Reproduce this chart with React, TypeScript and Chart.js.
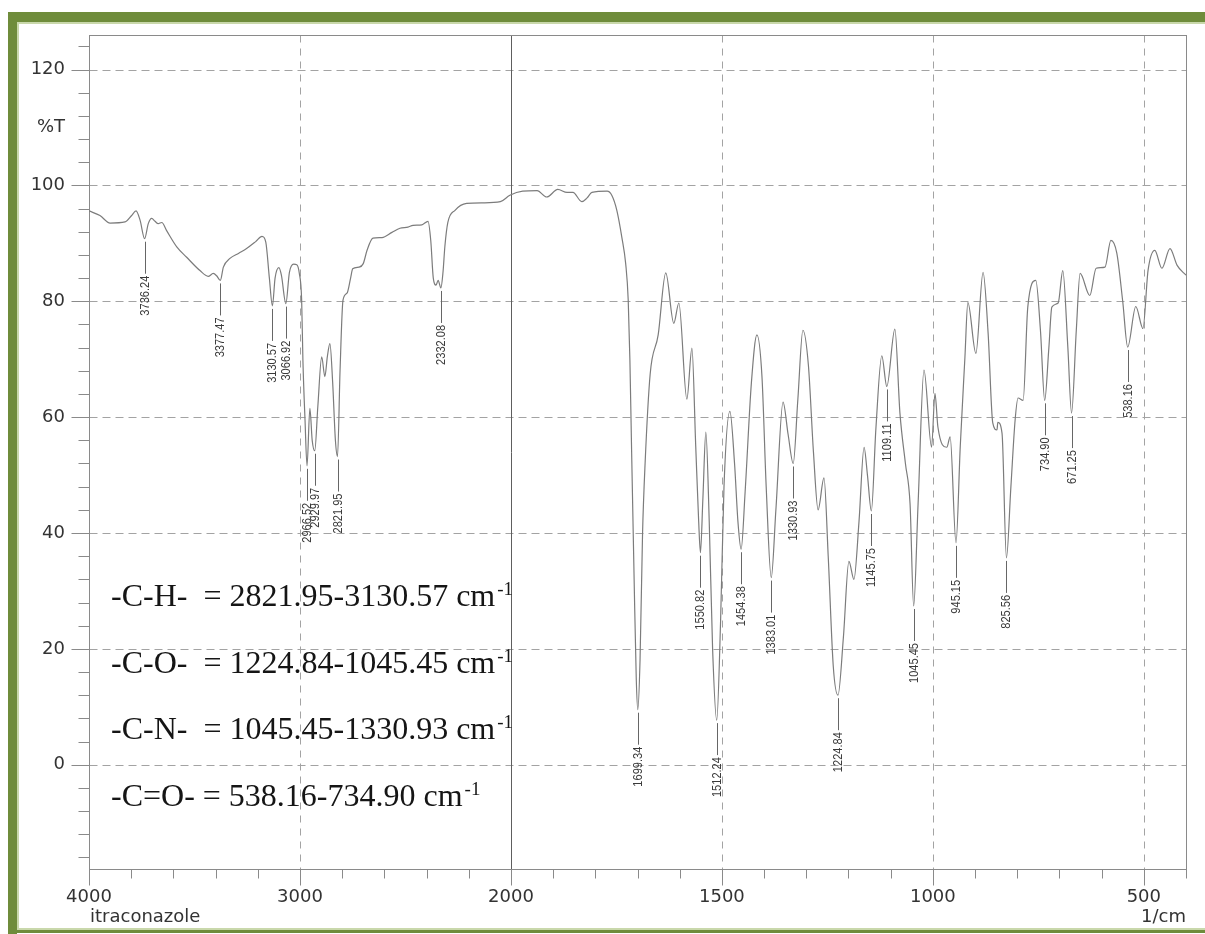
import { useEffect, useRef } from 'react';
import { Chart, LinearScale, registerables } from 'chart.js';

// FTIR spectrum of itraconazole: wavenumber (1/cm) against transmittance (%T)
const WAVENUMBERS: number[] = [
  4000, 3948, 3900, 3829, 3798, 3777, 3758, 3736.24, 3719, 3703, 3687, 3672, 3655, 3632,
  3584, 3537, 3474, 3435, 3411, 3395, 3377.47, 3363, 3332, 3290, 3253, 3210, 3180, 3162,
  3145, 3130.57, 3118, 3100, 3088, 3066.92, 3050, 3030, 3015, 3003, 2992, 2986, 2976,
  2966.52, 2953, 2942, 2929.97, 2915, 2897, 2882, 2870, 2858, 2845, 2832, 2821.95, 2810,
  2796, 2777, 2760, 2750, 2720, 2700, 2682, 2654, 2611, 2564, 2526, 2488, 2464, 2422,
  2393, 2380, 2368, 2355, 2345, 2332.08, 2322, 2313, 2299, 2265, 2210, 2130, 2050, 2005,
  1972, 1938, 1915, 1889, 1867, 1853, 1832, 1820, 1808, 1772, 1761, 1749, 1737, 1728,
  1722, 1718, 1714, 1708, 1703, 1699.34, 1694, 1688, 1682, 1670, 1651, 1633, 1614, 1602,
  1583, 1571, 1562, 1555, 1550.82, 1545, 1538, 1530, 1522, 1512.24, 1503, 1495, 1481,
  1470, 1462, 1454.38, 1445, 1430, 1417, 1405, 1395, 1383.01, 1372, 1355, 1343, 1330.93,
  1320, 1308, 1295, 1283, 1272, 1258, 1248, 1236, 1224.84, 1212, 1199, 1187, 1175, 1163,
  1155, 1145.75, 1135, 1121, 1109.11, 1090, 1078, 1065, 1054, 1045.45, 1035, 1021, 1003,
  995, 988, 967, 959, 945.15, 935, 924, 917, 898, 881, 869, 858, 848, 846, 836, 825.56,
  815, 805, 798, 786, 775, 756, 745, 734.9, 725, 718, 703, 692, 680, 671.25, 660, 651,
  628, 613, 592, 578, 564, 550, 538.16, 519, 502, 490, 474, 457, 438, 421, 400,
];

const TRANSMITTANCE: number[] = [
  95.6, 94.8, 93.5, 93.7, 94.8, 95.6, 94.0, 90.8, 93.4, 94.3, 93.8, 93.4, 93.6, 92.2,
  89.4, 87.6, 85.3, 84.3, 84.8, 84.4, 83.6, 85.9, 87.4, 88.3, 89.1, 90.3, 91.2, 90.2,
  84.0, 79.2, 84.0, 85.8, 84.5, 79.6, 85.0, 86.4, 86.3, 84.8, 80.2, 69.8, 59.5,
  51.6, 61.5, 56.0, 54.2, 62.0, 70.4, 67.0, 70.5, 72.7, 66.0, 56.0, 53.2, 68.0,
  80.2, 81.4, 84.0, 85.6, 85.9, 86.5, 88.8, 90.9, 91.0, 91.9, 92.6, 92.8, 93.1, 93.2,
  93.8, 90.5, 84.0, 82.8, 83.6, 82.3, 85.0, 89.5, 93.6, 95.7, 96.9, 97.0, 97.2, 98.3,
  99.0, 99.1, 98.0, 99.3, 98.8, 98.8, 97.2, 97.8, 98.8, 99.0, 98.3, 95.7, 91.0, 86.5,
  80.2, 69.8, 54.3, 32.0, 15.0, 9.5, 18.0, 40.0, 52.0, 67.4, 74.2, 84.9, 76.2, 79.7,
  63.1, 71.9, 55.0, 42.0, 36.6, 46.0, 57.4, 42.0, 20.0, 7.7, 25.0, 48.0, 61.0,
  52.0, 42.0, 37.2, 47.0, 66.0, 74.2, 67.0, 48.0, 32.3, 44.0, 62.6, 57.0, 52.0,
  63.0, 75.0, 69.0, 54.0, 44.0, 49.5, 36.0, 17.0, 12.0, 22.0, 35.1, 32.0, 42.0, 54.8,
  50.0, 43.8, 58.0, 70.6, 65.3, 75.2, 60.7, 52.0, 45.0, 27.4, 45.0, 68.1, 54.8,
  64.1, 58.3, 54.8, 56.6, 38.3, 55.0, 70.3, 79.8, 71.0, 85.0, 74.5, 59.0, 57.8, 59.1, 57.2, 35.7,
  48.0, 59.5, 63.3, 62.9, 79.0, 83.6, 75.0, 62.9, 72.0, 79.0, 79.7, 85.3, 72.0, 60.7, 75.0, 84.8,
  81.0, 85.7, 85.9, 90.5, 88.3, 80.0, 72.1, 79.1, 75.3, 85.3, 88.8, 85.7, 89.1, 86.2, 84.5,
];

// picked peaks, labelled below each band
const PEAK_WAVENUMBERS: number[] = [
  3736.24, 3377.47, 3130.57, 3066.92, 2966.52, 2929.97, 2821.95, 2332.08, 1699.34,
  1550.82, 1512.24, 1454.38, 1383.01, 1330.93, 1224.84, 1145.75, 1109.11, 1045.45,
  945.15, 825.56, 734.9, 671.25, 538.16,
];

const X_TICK_VALUES: number[] = [4000, 3000, 2000, 1500, 1000, 500];
const X_DASHED_GRID: number[] = [3000, 1500, 1000, 500];
const X_SOLID_GRID: number[] = [2000];
const Y_TICK_VALUES: number[] = [0, 20, 40, 60, 80, 100, 120];
const Y_UNIT_POSITION = 110;
const Y_UNIT_LABEL = '%T';
const SAMPLE_NAME = 'itraconazole';
const X_UNIT_LABEL = '1/cm';

const BAND_GROUPS: string[] = ['-C-H-  =', '-C-O-  =', '-C-N-  =', '-C=O- ='];
const BAND_RANGES: string[] = ['2821.95-3130.57', '1224.84-1045.45', '1045.45-1330.93', '538.16-734.90'];

const X_MIN = 400;
const X_MAX = 4000;
const X_SPLIT = 2000; // above this the axis is drawn at half scale
const Y_MIN = -18;
const Y_MAX = 126;

const FRAME_GREEN = '#6f8c3b';
const FRAME_LIGHT = '#c9d8ab';
const GRID_COLOR = '#a3a3a3';
const AXIS_COLOR = '#8a8a8a';
const TEXT_COLOR = '#333333';
const SPECTRUM_COLOR = '#7c7c7c';

// wavenumber axis with a 2:1 compression above 2000 1/cm
function axisUnits(value: number): number {
  return value >= X_SPLIT ? (X_MAX - value) / 2 : (X_MAX - X_SPLIT) / 2 + (X_SPLIT - value);
}

class SplitWavenumberScale extends LinearScale {
  static id = 'splitWavenumber';
  static defaults = { ...(LinearScale as any).defaults };

  buildTicks() {
    (this as any).start = this.min;
    (this as any).end = this.max;
    return X_TICK_VALUES.map((value) => ({ value }));
  }

  getPixelForValue(value: number) {
    if (value === null || value === undefined || isNaN(value)) return NaN;
    return this.getPixelForDecimal(axisUnits(value) / axisUnits(X_MIN));
  }

  getValueForPixel(pixel: number) {
    const u = this.getDecimalForPixel(pixel) * axisUnits(X_MIN);
    const high = (X_MAX - X_SPLIT) / 2;
    return u <= high ? X_MAX - 2 * u : X_SPLIT - (u - high);
  }
}

Chart.register(...registerables, SplitWavenumberScale);

function strokeLine(ctx: CanvasRenderingContext2D, x1: number, y1: number, x2: number, y2: number) {
  ctx.beginPath();
  ctx.moveTo(x1, y1);
  ctx.lineTo(x2, y2);
  ctx.stroke();
}

const spectrumDecor = {
  id: 'spectrumDecor',
  beforeDraw(chart: any) {
    const { ctx, width, height } = chart;
    ctx.save();
    ctx.fillStyle = '#ffffff';
    ctx.fillRect(0, 0, width, height);
    // green page frame
    ctx.fillStyle = FRAME_GREEN;
    ctx.fillRect(8, 12, width - 8, 10);
    ctx.fillRect(8, 12, 9, height - 12);
    ctx.fillRect(8, height - 4, width - 8, 3);
    ctx.fillStyle = FRAME_LIGHT;
    ctx.fillRect(17, 22, width - 17, 2);
    ctx.fillRect(17, 22, 2, height - 26);
    ctx.fillRect(17, height - 6, width - 17, 2);
    ctx.restore();
  },
  beforeDatasetsDraw(chart: any) {
    const { ctx, chartArea: a, scales } = chart;
    const xs = scales.x;
    const ys = scales.y;
    const left = Math.round(a.left) + 0.5;
    const right = Math.round(a.right) + 0.5;
    const top = Math.round(a.top) + 0.5;
    const bottom = Math.round(a.bottom) + 0.5;
    ctx.save();
    ctx.lineWidth = 1;

    // dashed grid
    ctx.strokeStyle = GRID_COLOR;
    ctx.setLineDash([8, 5]);
    for (const v of Y_TICK_VALUES) {
      const py = Math.round(ys.getPixelForValue(v)) + 0.5;
      strokeLine(ctx, left, py, right, py);
    }
    ctx.setLineDash([7, 6]);
    for (const v of X_DASHED_GRID) {
      const px = Math.round(xs.getPixelForValue(v)) + 0.5;
      strokeLine(ctx, px, top, px, bottom);
    }
    ctx.setLineDash([]);
    ctx.strokeStyle = '#5e5e5e';
    for (const v of X_SOLID_GRID) {
      const px = Math.round(xs.getPixelForValue(v)) + 0.5;
      strokeLine(ctx, px, top, px, bottom);
    }

    // plot frame
    ctx.strokeStyle = AXIS_COLOR;
    ctx.strokeRect(left, top, right - left, bottom - top);

    // y tick marks: long at labelled values, short every 4 %T
    for (let v = -16; v <= 124; v += 4) {
      const py = Math.round(ys.getPixelForValue(v)) + 0.5;
      const len = v % 20 === 0 ? 18 : 11;
      strokeLine(ctx, left - len, py, left, py);
    }

    // x tick marks: 200 1/cm steps above 2000, 100 1/cm below
    const minor: number[] = [];
    for (let w = 3800; w > X_SPLIT; w -= 200) minor.push(w);
    for (let w = 1900; w >= X_MIN; w -= 100) minor.push(w);
    for (const w of minor) {
      if (X_TICK_VALUES.includes(w)) continue;
      const px = Math.round(xs.getPixelForValue(w)) + 0.5;
      strokeLine(ctx, px, bottom, px, bottom + 9);
    }
    for (const w of X_TICK_VALUES) {
      const px = Math.round(xs.getPixelForValue(w)) + 0.5;
      strokeLine(ctx, px, bottom, px, bottom + 16);
    }
    ctx.restore();
  },
  afterDatasetsDraw(chart: any) {
    const { ctx, chartArea: a, scales } = chart;
    const xs = scales.x;
    const ys = scales.y;
    ctx.save();

    // peak markers: leader line plus rotated wavenumber
    ctx.lineWidth = 1;
    ctx.strokeStyle = '#666666';
    ctx.fillStyle = '#3a3a3a';
    ctx.font = '13px "Liberation Sans", Arial, sans-serif';
    for (const w of PEAK_WAVENUMBERS) {
      const i = WAVENUMBERS.indexOf(w);
      if (i < 0) continue;
      const px = Math.round(xs.getPixelForValue(w)) + 0.5;
      const py = ys.getPixelForValue(TRANSMITTANCE[i]);
      strokeLine(ctx, px, py + 3, px, py + 35);
      ctx.save();
      ctx.translate(px, py + 37);
      ctx.rotate(-Math.PI / 2);
      ctx.scale(0.85, 1);
      ctx.textAlign = 'right';
      ctx.textBaseline = 'middle';
      ctx.fillText(w.toFixed(2), 0, 0);
      ctx.restore();
    }

    // band assignment notes
    ctx.fillStyle = '#151515';
    ctx.textAlign = 'left';
    ctx.textBaseline = 'alphabetic';
    const noteX = a.left + 22;
    const baselines = [571, 638, 704, 771];
    BAND_GROUPS.forEach((group, i) => {
      const by = a.top + baselines[i];
      const text = `${group} ${BAND_RANGES[i]} cm`;
      ctx.font = '32px "Liberation Serif", "Times New Roman", serif';
      ctx.fillText(text, noteX, by);
      const wText = ctx.measureText(text).width;
      ctx.font = '19px "Liberation Serif", "Times New Roman", serif';
      ctx.fillText('-1', noteX + wText + 2, by - 11);
    });

    // sample name and unit under the wavenumber axis
    ctx.fillStyle = TEXT_COLOR;
    ctx.font = '18px "DejaVu Sans", sans-serif';
    ctx.textBaseline = 'middle';
    ctx.textAlign = 'left';
    ctx.fillText(SAMPLE_NAME, a.left + 1, a.bottom + 48);
    ctx.textAlign = 'right';
    ctx.fillText(X_UNIT_LABEL, a.right, a.bottom + 48);
    ctx.restore();
  },
};

export default function App() {
  const canvasRef = useRef<HTMLCanvasElement>(null);

  useEffect(() => {
    const canvas = canvasRef.current;
    if (!canvas) return;
    const chart = new Chart(canvas, {
      type: 'line',
      data: {
        datasets: [
          {
            label: SAMPLE_NAME,
            data: WAVENUMBERS.map((w, i) => ({ x: w, y: TRANSMITTANCE[i] })),
            borderColor: SPECTRUM_COLOR,
            borderWidth: 1.2,
            pointRadius: 0,
            fill: false,
            cubicInterpolationMode: 'monotone',
          },
        ],
      },
      options: {
        animation: false,
        responsive: false,
        devicePixelRatio: 1,
        events: [],
        layout: { padding: { left: 0, top: 34, right: 19, bottom: 0 } },
        plugins: {
          legend: { display: false },
          tooltip: { enabled: false },
          title: { display: false },
        },
        scales: {
          x: {
            type: 'splitWavenumber' as any,
            min: X_MIN,
            max: X_MAX,
            grid: { display: false, drawTicks: false },
            border: { display: false },
            ticks: {
              autoSkip: false,
              maxRotation: 0,
              minRotation: 0,
              padding: 18,
              color: TEXT_COLOR,
              font: { family: '"DejaVu Sans", sans-serif', size: 18 },
              callback: (v: any) => String(v),
            },
            afterFit: (s: any) => {
              s.height = 65;
            },
          },
          y: {
            type: 'linear',
            min: Y_MIN,
            max: Y_MAX,
            grid: { display: false, drawTicks: false },
            border: { display: false },
            afterBuildTicks: (s: any) => {
              s.ticks = [...Y_TICK_VALUES, Y_UNIT_POSITION].map((value) => ({ value }));
            },
            ticks: {
              padding: 24,
              color: TEXT_COLOR,
              font: { family: '"DejaVu Sans", sans-serif', size: 18 },
              callback: (v: any) => (v === Y_UNIT_POSITION ? Y_UNIT_LABEL : String(v)),
            },
            afterFit: (s: any) => {
              s.width = 89;
            },
          },
        },
      },
      plugins: [spectrumDecor],
    });
    return () => chart.destroy();
  }, []);

  return (
    <div style={{ position: 'absolute', left: 0, top: 0, width: 1205, height: 934, background: '#ffffff' }}>
      <canvas ref={canvasRef} width={1205} height={934} style={{ display: 'block', width: 1205, height: 934 }} />
    </div>
  );
}
